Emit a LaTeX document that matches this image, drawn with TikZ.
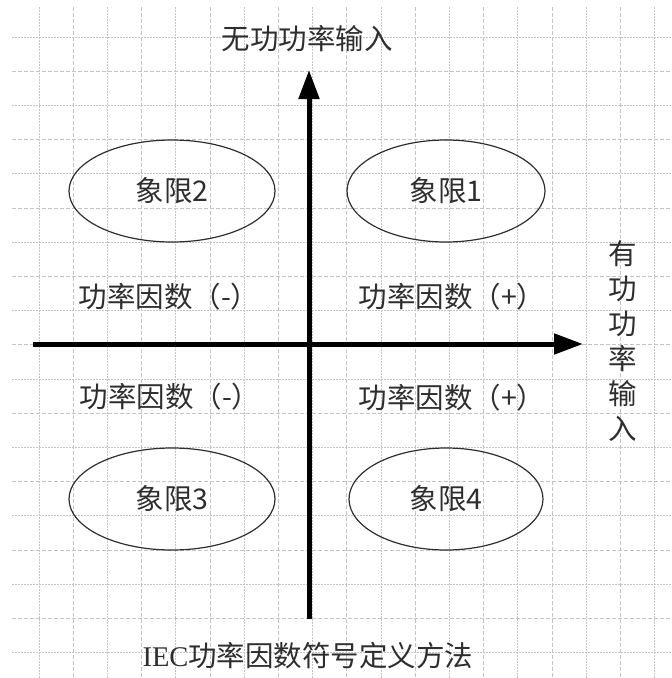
\documentclass[tikz,border=0pt]{standalone}
\usepackage{fontspec}
\setmainfont{Noto Sans CJK SC}
\newfontfamily\latinserif{Liberation Serif}
\usetikzlibrary{arrows.meta,shapes.geometric}

\definecolor{gridgray}{HTML}{C4C4C4}
\definecolor{inkgray}{HTML}{2E2E2E}

\tikzset{
  gridmajor/.style={gridgray,line width=0.9pt,dash pattern=on 4pt off 2pt},
  gridminor/.style={gridgray,line width=0.9pt,dash pattern=on 1.5pt off 1.5pt},
  axis/.style={black,line width=5pt,-{Triangle[length=29pt,width=20pt]}},
  quadrant/.style={draw=inkgray,line width=1.2pt,ellipse,inner sep=0pt,minimum height=102pt},
}

\begin{document}
\begin{tikzpicture}[x=1pt,y=-1pt,font=\fontsize{28.5}{35}\selectfont,text=inkgray]
  \useasboundingbox (0,0) rectangle (672,678);
  % grid
  \foreach \k in {0,2,...,18}{
    \draw[gridminor] (39+34.2*\k,7) -- (39+34.2*\k,678);
    \draw[gridminor] (12,37+34.2*\k) -- (672,37+34.2*\k);
  }
  \foreach \k in {1,3,...,17}{
    \draw[gridmajor] (39+34.2*\k,7) -- (39+34.2*\k,678);
    \draw[gridmajor] (12,37+34.2*\k) -- (672,37+34.2*\k);
  }
  % axes
  \coordinate (pstart) at (33,344);
  \coordinate (pend) at (583,344);
  \coordinate (qstart) at (309,619);
  \coordinate (qend) at (309,70);
  \draw[axis] (pstart) -- (pend);
  \draw[axis] (qstart) -- (qend);
  % quadrants
  \draw
    (172,191) node[quadrant,minimum width=206pt] (q2){象限2}
    (446,191) node[quadrant,minimum width=198pt] (q1){象限1}
    (172,499) node[quadrant,minimum width=206pt] (q3){象限3}
    (446,499) node[quadrant,minimum width=194pt] (q4){象限4};
  % power factor signs
  \draw
    (75,297) node[anchor=west] (pf2){功率因数（-）}
    (355,297) node[anchor=west] (pf1){功率因数（+）}
    (76,397) node[anchor=west] (pf3){功率因数（-）}
    (355,398) node[anchor=west] (pf4){功率因数（+）};
  % axis titles
  \draw
    (307,39) node (qin){无功功率输入}
    (623,341) node[align=center] (pin){有\\功\\功\\率\\输\\入}
    (308,656) node (title){{\latinserif IEC}功率因数符号定义方法};
\end{tikzpicture}
\end{document}
